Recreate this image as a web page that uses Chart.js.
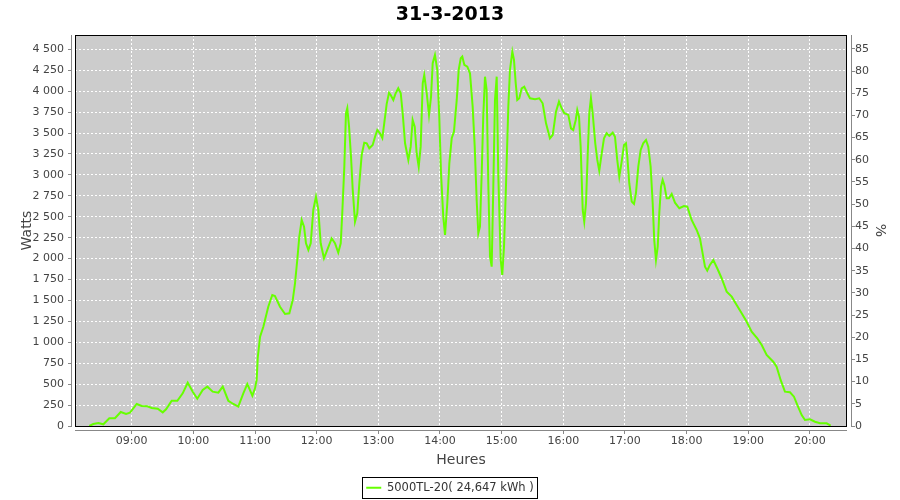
<!DOCTYPE html>
<html>
<head>
<meta charset="utf-8">
<script src="https://cdn.jsdelivr.net/npm/chart.js@4.4.1/dist/chart.umd.min.js"></script>
<style>
  html, body { margin: 0; padding: 0; background: #fff; }
  #chart { display: block; }
</style>
</head>
<body>
<canvas id="chart" width="900" height="500"></canvas>
<script>
// time of each sample, in minutes after midnight
const minutes = [
  498.7, 502.6, 507.5, 512.4, 518.2, 523.7, 529.3, 534.5, 538.3, 544.9,
  549.7, 555.2, 559.5, 565.3, 570.2, 573.4, 578.9, 584.4, 589.6, 594.5,
  599.4, 603.8, 609.1, 613.6, 618.8, 624.3, 628.6, 634.0, 638.9, 643.7,
  648.6, 652.5, 657.4, 660.0, 661.6, 662.6, 664.9, 668.1, 672.9, 676.8,
  679.4, 684.3, 689.2, 693.4, 696.7, 698.9, 701.1, 703.1, 705.4, 707.7,
  709.6, 711.9, 714.2, 716.7, 719.3, 721.6, 723.9, 727.1, 730.3, 734.6,
  737.8, 741.0, 743.4, 744.9, 746.9, 748.5, 749.8, 751.5, 753.4, 755.1,
  757.3, 759.5, 761.5, 763.8, 766.3, 768.7, 771.2, 774.5, 776.8, 779.0,
  781.6, 783.9, 785.8, 788.1, 790.4, 792.0, 794.6, 796.9, 799.4, 801.8,
  803.7, 806.0, 809.2, 811.5, 813.4, 815.4, 817.3, 819.3, 821.2, 823.2,
  824.7, 827.1, 829.3, 831.3, 832.9, 835.1, 837.4, 839.3, 841.0, 843.2,
  844.9, 847.1, 849.1, 851.4, 853.6, 856.3, 858.2, 860.2, 861.7, 863.7,
  866.6, 869.2, 871.8, 873.8, 875.7, 877.3, 878.9, 880.6, 882.1, 883.8,
  885.4, 887.0, 888.7, 890.3, 891.9, 893.5, 895.2, 896.7, 899.1, 900.6,
  902.3, 904.2, 906.5, 908.1, 910.4, 912.0, 913.7, 915.2, 917.2, 919.5,
  922.0, 925.0, 927.6, 932.5, 936.6, 939.9, 943.2, 947.0, 949.7, 952.9,
  955.8, 958.4, 961.0, 964.9, 967.5, 969.7, 972.1, 973.6, 975.3, 976.9,
  978.9, 980.4, 982.1, 983.7, 985.3, 986.9, 988.6, 991.1, 993.1, 995.0,
  997.4, 999.6, 1002.2, 1004.8, 1008.1, 1010.3, 1012.5, 1014.5, 1016.8, 1019.1,
  1021.0, 1022.3, 1024.2, 1026.6, 1028.8, 1030.7, 1033.0, 1035.3, 1037.8, 1040.5,
  1042.7, 1045.0, 1047.0, 1048.5, 1050.2, 1051.9, 1053.4, 1055.1, 1056.7, 1058.3,
  1060.6, 1062.8, 1065.5, 1068.7, 1072.9, 1077.4, 1080.7, 1084.9, 1089.8, 1093.0,
  1095.6, 1097.9, 1100.1, 1102.7, 1106.0, 1109.8, 1114.1, 1119.0, 1123.9, 1128.7,
  1133.6, 1138.5, 1143.3, 1148.8, 1153.1, 1157.9, 1164.3, 1167.6, 1171.5, 1175.7,
  1180.6, 1184.5, 1187.7, 1192.0, 1195.2, 1200.1, 1204.9, 1209.8, 1216.3, 1220.2
];
const watts = [
  0, 24, 36, 20, 92, 92, 167, 143, 159, 263,
  239, 235, 215, 207, 163, 199, 302, 302, 390, 517,
  410, 326, 430, 470, 410, 398, 470, 302, 263, 231,
  390, 502, 362, 450, 550, 810, 1067, 1186, 1425, 1565,
  1553, 1425, 1338, 1346, 1505, 1705, 1983, 2262, 2461, 2381,
  2183, 2103, 2183, 2581, 2740, 2581, 2183, 2003, 2103, 2242,
  2183, 2071, 2183, 2541, 3098, 3736, 3796, 3576, 3217, 2820,
  2441, 2541, 2900, 3238, 3385, 3377, 3318, 3357, 3456, 3536,
  3497, 3440, 3620, 3845, 3980, 3954, 3895, 3975, 4034, 3975,
  3736, 3377, 3178, 3337, 3656, 3576, 3258, 3098, 3337, 4094,
  4193, 3975, 3716, 3935, 4333, 4432, 4253, 3696, 3019, 2501,
  2282, 2661, 3138, 3437, 3516, 3895, 4253, 4393, 4413, 4313,
  4293, 4213, 3815, 3337, 2700, 2302, 2381, 3019, 3696, 4173,
  4014, 2900, 2023, 1903, 2859, 3895, 4173, 3019, 1983, 1804,
  2142, 2859, 3815, 4253, 4472, 4373, 4094, 3895, 3915, 4034,
  4054, 3975, 3915, 3903, 3915, 3855, 3616, 3437, 3476, 3755,
  3875, 3795, 3736, 3716, 3556, 3536, 3656, 3775, 3696, 3337,
  2581, 2441, 2661, 3217, 3736, 3915, 3736, 3377, 3178, 3050,
  3258, 3437, 3497, 3465, 3504, 3456, 3178, 2978, 3158, 3357,
  3377, 3217, 2900, 2680, 2652, 2780, 3098, 3297, 3377, 3417,
  3337, 3098, 2661, 2222, 1983, 2142, 2541, 2859, 2939, 2880,
  2720, 2720, 2772, 2668, 2601, 2628, 2620, 2461, 2342, 2242,
  2063, 1903, 1856, 1924, 1983, 1884, 1765, 1605, 1545, 1446,
  1346, 1246, 1127, 1048, 968, 848, 768, 708, 550, 410,
  403, 350, 251, 131, 72, 80, 51, 32, 32, 4
];
const hourTicks = [540, 600, 660, 720, 780, 840, 900, 960, 1020, 1080, 1140, 1200];
const hourLabels = ["09:00", "10:00", "11:00", "12:00", "13:00", "14:00",
  "15:00", "16:00", "17:00", "18:00", "19:00", "20:00"];

const chartTitle = "31-3-2013";
const seriesLabel = "5000TL-20( 24,647 kWh )";
const wattMax = 4670.8;
const nominalWatts = 53; // watts per percent on the right axis

Chart.defaults.font.family = "'DejaVu Sans', sans-serif";

function spaced(v) {
  return String(v).replace(/\B(?=(\d{3})+(?!\d))/g, " ");
}

const plotFrame = {
  id: "plotFrame",
  beforeDraw(chart) {
    const { ctx, chartArea: a } = chart;
    ctx.save();
    ctx.fillStyle = "#fff";
    ctx.fillRect(0, 0, chart.width, chart.height);
    ctx.fillStyle = "#cccccc";
    ctx.fillRect(a.left, a.top, a.right - a.left, a.bottom - a.top);
    ctx.restore();
  },
  afterDraw(chart) {
    const { ctx, chartArea: a, scales } = chart;
    ctx.save();
    ctx.lineWidth = 1;
    ctx.strokeStyle = "#000";
    ctx.strokeRect(a.left + 0.5, a.top + 0.5, a.right - a.left - 1, a.bottom - a.top);

    ctx.strokeStyle = "#888";
    ctx.beginPath();
    ctx.moveTo(a.left - 3.5, a.top);
    ctx.lineTo(a.left - 3.5, a.bottom + 1);
    scales.y.ticks.forEach((t) => {
      const y = Math.floor(scales.y.getPixelForValue(t.value)) + 0.5;
      ctx.moveTo(a.left - 7, y);
      ctx.lineTo(a.left - 3.5, y);
    });
    ctx.moveTo(a.left, a.bottom + 4.5);
    ctx.lineTo(a.right, a.bottom + 4.5);
    scales.x.ticks.forEach((t) => {
      const x = Math.floor(scales.x.getPixelForValue(t.value)) + 0.5;
      ctx.moveTo(x, a.bottom + 4.5);
      ctx.lineTo(x, a.bottom + 8);
    });
    ctx.moveTo(a.right + 4.5, a.top);
    ctx.lineTo(a.right + 4.5, a.bottom + 1);
    scales.y1.ticks.forEach((t) => {
      const y = Math.floor(scales.y1.getPixelForValue(t.value)) + 0.5;
      ctx.moveTo(a.right + 4.5, y);
      ctx.lineTo(a.right + 8, y);
    });
    ctx.stroke();

    const hb = chart.legend.legendHitBoxes[0];
    if (hb) {
      ctx.strokeStyle = "#000";
      ctx.strokeRect(Math.round(hb.left - 4) + 0.5, Math.round(hb.top - 5) + 0.5,
        Math.round(hb.width + 7), Math.round(hb.height + 9));
    }
    ctx.restore();
  },
};

const points = minutes.map((m, i) => ({ x: m, y: watts[i] }));

new Chart(document.getElementById("chart"), {
  type: "line",
  data: {
    datasets: [
      {
        label: seriesLabel,
        data: points,
        borderColor: "#66ff00",
        backgroundColor: "#66ff00",
        borderWidth: 2,
        pointRadius: 0,
        tension: 0,
        fill: false,
      },
    ],
  },
  options: {
    responsive: false,
    animation: false,
    layout: { padding: { left: 0, right: 0, top: 0, bottom: -3.5 } },
    scales: {
      x: {
        type: "linear",
        min: 484.8,
        max: 1236.1,
        afterFit(s) { s.height = 53; },
        afterBuildTicks(s) { s.ticks = hourTicks.map((v) => ({ value: v })); },
        border: { display: false, dash: [2, 2] },
        grid: { color: "#fff", lineWidth: 1, drawTicks: false },
        ticks: {
          padding: 9,
          color: "#444",
          font: { size: 11 },
          maxRotation: 0,
          autoSkip: false,
          callback: (v) => hourLabels[hourTicks.indexOf(v)],
        },
        title: { display: true, text: "Heures", color: "#444", font: { size: 14 }, padding: { top: 0, bottom: 10.6 } },
      },
      y: {
        position: "left",
        min: 0,
        max: wattMax,
        afterFit(s) { s.width = 75; },
        border: { display: false, dash: [2, 2] },
        grid: { color: "#fff", lineWidth: 1, drawTicks: false },
        ticks: {
          stepSize: 250,
          includeBounds: false,
          padding: 11,
          color: "#444",
          font: { size: 11 },
          callback: (v) => spaced(v),
        },
        title: { display: true, text: "Watts", color: "#444", font: { size: 14 }, padding: { top: 19, bottom: 0 } },
      },
      y1: {
        position: "right",
        min: 0,
        max: wattMax / nominalWatts,
        afterFit(s) { s.width = 53; },
        border: { display: false },
        grid: { display: false, drawTicks: false },
        ticks: {
          stepSize: 5,
          includeBounds: false,
          padding: 8,
          color: "#444",
          font: { size: 11 },
        },
        title: { display: true, text: "%", color: "#444", font: { size: 14 }, padding: { top: 11.6, bottom: 0 } },
      },
    },
    plugins: {
      title: {
        display: true,
        text: chartTitle,
        color: "#000",
        font: { size: 19, weight: "bold" },
        padding: { top: 4, bottom: 8.2 },
      },
      legend: {
        position: "bottom",
        labels: {
          usePointStyle: true,
          pointStyle: "line",
          pointStyleWidth: 15,
          color: "#333",
          font: { size: 11.5 },
          padding: 3,
        },
      },
      tooltip: { enabled: false },
    },
  },
  plugins: [plotFrame],
});
</script>
</body>
</html>
